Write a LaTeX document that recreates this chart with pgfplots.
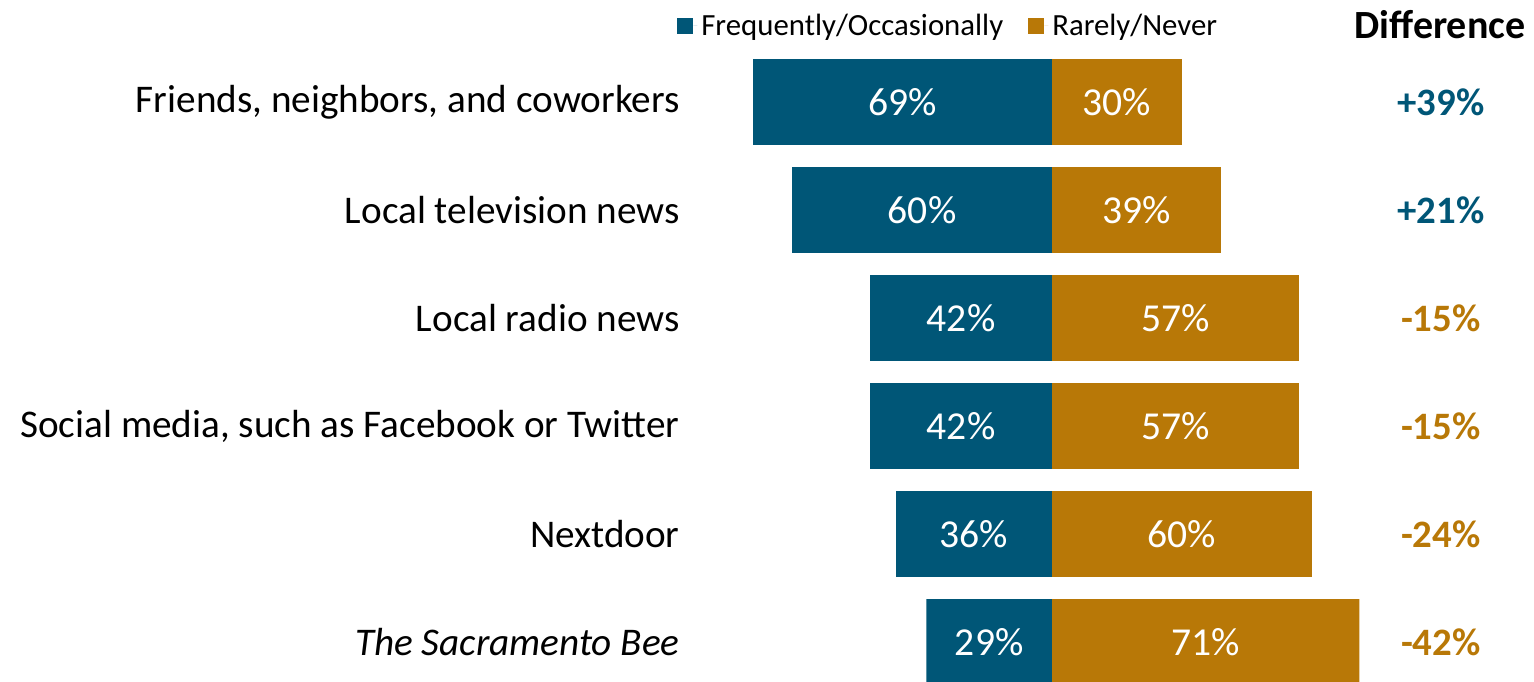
\documentclass[border=0pt]{standalone}
\usepackage{pgfplots}
\pgfplotsset{compat=1.18}
\usepackage{pgfplotstable}
\usepackage{fontspec}
\setmainfont{Carlito}
\definecolor{freq}{HTML}{005677}
\definecolor{rare}{HTML}{B87807}

\pgfplotstableread{
idx freq rare
0 69 30
1 60 39
2 42 57
3 42 57
4 36 60
5 29 71
}\sources

\begin{document}
\begin{tikzpicture}
\begin{axis}[name=ax,
  scale only axis, width=767pt, height=341pt,
  xmin=-242.96, xmax=111.32,
  ymin=-0.9444, ymax=5.3704, y dir=reverse,
  axis line style={draw=none},
  major tick length=0pt,
  xtick=\empty,
  ytick={0,...,5},
  yticklabels={{Friends, neighbors, and coworkers},Local television news,Local radio news,{Social media, such as Facebook or Twitter},Nextdoor,\textit{The Sacramento Bee}},
  yticklabel style={anchor=east, xshift=340pt, inner sep=0pt, font=\fontsize{19.6}{22}\selectfont},
  bar width=0.796, bar shift=0pt,
  /pgf/number format/assume math mode=true,
  legend columns=2,
  legend style={at={(0.4413,0.962)}, anchor=west, draw=none, fill=none, inner sep=0pt,
    font=\fontsize{15.4}{17}\selectfont, /tikz/every even column/.append style={column sep=10.5pt}},
  title={\textbf{Difference}},
  title style={at={(0.9387,0.962)}, anchor=center, yshift=-5.5pt, font=\fontsize{20}{22}\selectfont},
]
\addplot[xbar, fill=freq, draw=none, legend image code/.code={\fill[freq] (0pt,-4pt) rectangle (8pt,4pt); \path (8pt,0pt) -- (10pt,0pt);}]
  table[x expr=-\thisrow{freq}, y=idx]{\sources};
\addlegendentry{Frequently/Occasionally}
\addplot[xbar, fill=rare, draw=none, legend image code/.code={\fill[rare] (0pt,-4pt) rectangle (8pt,4pt); \path (8pt,0pt) -- (10pt,0pt);}]
  table[x=rare, y=idx]{\sources};
\addlegendentry{Rarely/Never}
% values inside the bars
\addplot[forget plot, only marks, mark=*, mark size=0pt, point meta=\thisrow{freq},
  nodes near coords={\pgfmathprintnumber{\pgfplotspointmeta}\%},
  nodes near coords style={white, anchor=center, font=\fontsize{19.8}{22}\selectfont}]
  table[x expr=-\thisrow{freq}/2, y=idx]{\sources};
\addplot[forget plot, only marks, mark=*, mark size=0pt, point meta=\thisrow{rare},
  nodes near coords={\pgfmathprintnumber{\pgfplotspointmeta}\%},
  nodes near coords style={white, anchor=center, font=\fontsize{19.8}{22}\selectfont}]
  table[x expr=\thisrow{rare}/2, y=idx]{\sources};
% difference column
\addplot[forget plot, only marks, mark=*, mark size=0pt, point meta=explicit symbolic,
  nodes near coords, nodes near coords style={freq, anchor=center, font=\fontsize{19.4}{22}\selectfont\bfseries}]
  coordinates {(89.8,0) [+39\%] (89.8,1) [+21\%]};
\addplot[forget plot, only marks, mark=*, mark size=0pt, point meta=explicit symbolic,
  nodes near coords, nodes near coords style={rare, anchor=center, font=\fontsize{19.4}{22}\selectfont\bfseries}]
  coordinates {(89.8,2) [-15\%] (89.8,3) [-15\%] (89.8,4) [-24\%] (89.8,5) [-42\%]};
\end{axis}
\pgfresetboundingbox
\path[use as bounding box] (ax.south west) rectangle (ax.north east);
\end{tikzpicture}
\end{document}
